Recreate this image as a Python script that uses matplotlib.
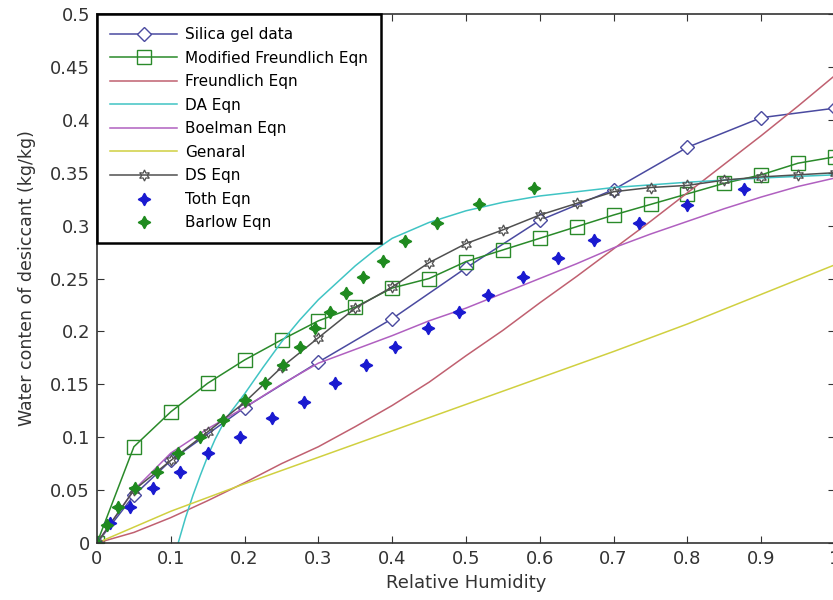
import numpy as np
import matplotlib
matplotlib.use('Agg')
import matplotlib.pyplot as plt

plt.rcParams['font.family'] = ['DejaVu Sans']

silica_x = [0, 0.05, 0.1, 0.2, 0.3, 0.4, 0.5, 0.6, 0.7, 0.8, 0.9, 1.0]
silica_y = [0, 0.045, 0.078, 0.128, 0.171, 0.212, 0.26, 0.305, 0.334, 0.374, 0.402, 0.411]

step_x = [0, 0.05, 0.1, 0.15, 0.2, 0.25, 0.3, 0.35, 0.4, 0.45, 0.5,
          0.55, 0.6, 0.65, 0.7, 0.75, 0.8, 0.85, 0.9, 0.95, 1.0]
modfr_y = [0, 0.091, 0.124, 0.151, 0.173, 0.192, 0.21, 0.223, 0.241, 0.25, 0.266,
           0.277, 0.288, 0.299, 0.31, 0.32, 0.33, 0.34, 0.348, 0.359, 0.365]
freund_y = [0, 0.01, 0.024, 0.04, 0.057, 0.075, 0.091, 0.11, 0.13, 0.152, 0.177,
            0.201, 0.227, 0.252, 0.278, 0.304, 0.331, 0.358, 0.385, 0.413, 0.442]
boel_y = [0, 0.05, 0.085, 0.108, 0.128, 0.15, 0.17, 0.183, 0.196, 0.21, 0.222,
          0.236, 0.25, 0.264, 0.279, 0.292, 0.304, 0.316, 0.327, 0.337, 0.345]
ds_y = [0, 0.05, 0.078, 0.105, 0.133, 0.166, 0.194, 0.222, 0.242, 0.265, 0.283,
        0.296, 0.31, 0.321, 0.332, 0.336, 0.338, 0.343, 0.346, 0.348, 0.35]

da_x = [0.11, 0.12, 0.13, 0.14, 0.15, 0.16, 0.175, 0.2, 0.225, 0.25, 0.275, 0.3,
        0.325, 0.35, 0.375, 0.4, 0.45, 0.5, 0.55, 0.6, 0.7, 0.8, 0.9, 1.0]
da_y = [0, 0.024, 0.045, 0.064, 0.082, 0.098, 0.118, 0.141, 0.166, 0.19, 0.211, 0.23,
        0.246, 0.262, 0.276, 0.288, 0.303, 0.314, 0.322, 0.328, 0.336, 0.341, 0.345, 0.348]

gen_x = [0, 0.1, 0.2, 0.3, 0.4, 0.5, 0.6, 0.7, 0.8, 0.9, 1.0]
gen_y = [0, 0.03, 0.056, 0.081, 0.106, 0.131, 0.156, 0.181, 0.207, 0.235, 0.263]

toth_x = [0, 0.018, 0.045, 0.076, 0.113, 0.15, 0.194, 0.237, 0.28, 0.323, 0.364,
          0.404, 0.448, 0.49, 0.53, 0.577, 0.624, 0.673, 0.734, 0.8, 0.877]
toth_y = [0, 0.019, 0.034, 0.052, 0.067, 0.085, 0.1, 0.118, 0.133, 0.151, 0.168,
          0.185, 0.203, 0.218, 0.234, 0.251, 0.269, 0.286, 0.302, 0.319, 0.335]

barlow_x = [0, 0.013, 0.028, 0.052, 0.081, 0.11, 0.14, 0.171, 0.2, 0.228, 0.252,
            0.275, 0.296, 0.316, 0.337, 0.361, 0.387, 0.418, 0.461, 0.517, 0.592]
barlow_y = [0, 0.017, 0.034, 0.052, 0.067, 0.085, 0.1, 0.116, 0.135, 0.151, 0.168,
            0.185, 0.203, 0.218, 0.236, 0.251, 0.267, 0.285, 0.302, 0.32, 0.336]

xticks = [0, 0.1, 0.2, 0.3, 0.4, 0.5, 0.6, 0.7, 0.8, 0.9, 1]
xlabels = ['0', '0.1', '0.2', '0.3', '0.4', '0.5', '0.6', '0.7', '0.8', '0.9', '1']
yticks = [0, 0.05, 0.1, 0.15, 0.2, 0.25, 0.3, 0.35, 0.4, 0.45, 0.5]
ylabels = ['0', '0.05', '0.1', '0.15', '0.2', '0.25', '0.3', '0.35', '0.4', '0.45', '0.5']

fig = plt.figure(figsize=(8.33, 6), dpi=100)
ax = fig.add_axes([97/833, 57/600, 738/833, 529/600])

ax.plot(silica_x, silica_y, color='#4a4aa0', lw=1.1, marker='D', ms=7,
        mfc='white', mec='#4a4aa0', mew=1.0, label='Silica gel data')
ax.plot(step_x, modfr_y, color='#2a8a2a', lw=1.1, marker='s', ms=10,
        mfc='none', mec='#2a8a2a', mew=1.0, label='Modified Freundlich Eqn')
ax.plot(step_x, freund_y, color='#c06070', lw=1.1, label='Freundlich Eqn')
ax.plot(da_x, da_y, color='#40c4c4', lw=1.1, label='DA Eqn')
ax.plot(step_x, boel_y, color='#b060c0', lw=1.1, label='Boelman Eqn')
ax.plot(gen_x, gen_y, color='#d0d040', lw=1.1, label='Genaral')
ax.plot(step_x, ds_y, color='#505050', lw=1.1, marker=(6, 1, 0), ms=8,
        mfc='none', mec='#505050', mew=0.9, label='DS Eqn')
ax.plot(toth_x, toth_y, ls='none', marker=(4, 1, 0), ms=9, color='#1a1ad0',
        label='Toth Eqn')
ax.plot(barlow_x, barlow_y, ls='none', marker=(4, 1, 0), ms=9, color='#1f8a1f',
        label='Barlow Eqn')

ax.set_xlim(0, 1)
ax.set_ylim(0, 0.5)
ax.set_xticks(xticks)
ax.set_xticklabels(xlabels)
ax.set_yticks(yticks)
ax.set_yticklabels(ylabels)
ax.tick_params(direction='in', top=True, right=True, labelsize=13, length=5,
               colors='#333333', pad=5)
for s in ax.spines.values():
    s.set_color('#333333')
    s.set_linewidth(1.2)

ax.set_xlabel('Relative Humidity', fontsize=13, color='#333333', labelpad=4)
ax.set_ylabel('Water conten of desiccant (kg/kg)', fontsize=12.5, color='#333333', labelpad=10)

leg = ax.legend(loc='upper left', fontsize=11, borderaxespad=0, fancybox=False,
                handlelength=4.4, handletextpad=0.5, labelspacing=0.56,
                borderpad=0.85, framealpha=1)
leg.get_frame().set_edgecolor('black')
leg.get_frame().set_linewidth(1.8)

plt.savefig('out.png', dpi=100)
